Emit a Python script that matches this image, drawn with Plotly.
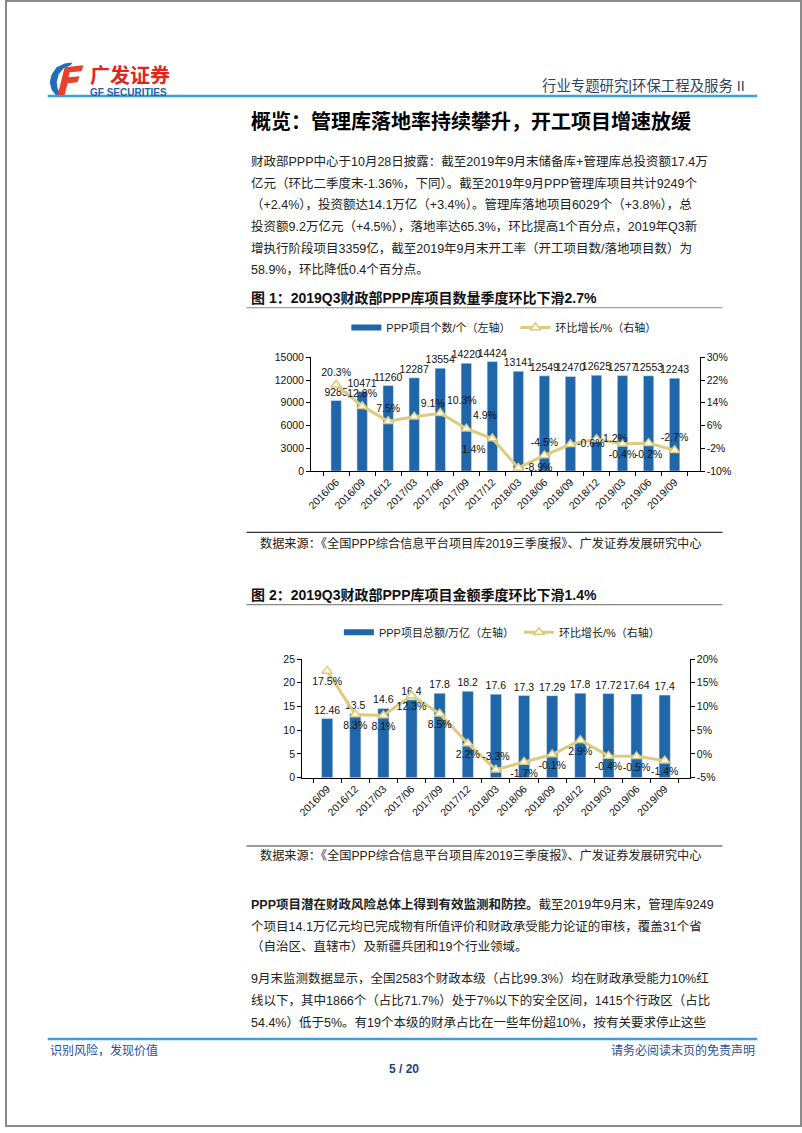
import plotly.graph_objects as go

W, H = 802, 1133

# ---------------- data ----------------
quarters1 = ["2016/06", "2016/09", "2016/12", "2017/03", "2017/06", "2017/09", "2017/12",
             "2018/03", "2018/06", "2018/09", "2018/12", "2019/03", "2019/06", "2019/09"]
project_counts = [9285, 10471, 11260, 12287, 13554, 14220, 14424,
                  13141, 12549, 12470, 12625, 12577, 12553, 12243]
count_growth = [20.3, 12.8, 7.5, 9.1, 10.3, 4.9, 1.4, -8.9, -4.5, -0.6, 1.2, -0.4, -0.2, -2.7]

quarters2 = ["2016/09", "2016/12", "2017/03", "2017/06", "2017/09", "2017/12",
             "2018/03", "2018/06", "2018/09", "2018/12", "2019/03", "2019/06", "2019/09"]
project_amounts = [12.46, 13.5, 14.6, 16.4, 17.8, 18.2, 17.6, 17.3, 17.29, 17.8, 17.72, 17.64, 17.4]
amount_growth = [17.5, 8.3, 8.1, 12.3, 8.5, 2.2, -3.3, -1.7, -0.1, 2.9, -0.4, -0.5, -1.4]

y1_left_ticks = [0, 3000, 6000, 9000, 12000, 15000]
y1_right_ticks = [-10, -2, 6, 14, 22, 30]
y2_left_ticks = [0, 5, 10, 15, 20, 25]
y2_right_ticks = [-5, 0, 5, 10, 15, 20]

# label placement (style)
pos1 = ["top center", "top center", "top center", "top right", "top right", "top right",
        "bottom left", "middle right", "top center", "middle right", "middle right",
        "bottom center", "bottom center", "top center"]
pos2 = ["bottom center"] * 6 + ["top center"] + ["bottom center"] * 6

BLUE = "#1F67AA"
GOLD = "#DCCB7E"
FONT = "Liberation Sans, Arial, Noto Sans CJK SC"
CJK = "Liberation Sans, Noto Sans CJK SC"


def px(x):
    return x / W


def py(y):
    return 1 - y / H


fig = go.Figure()


def legend_swatch(name, legend):
    # wide blue legend key like the original (no data drawn)
    fig.add_trace(go.Scatter(x=[None], y=[None], mode="lines", name=name,
                             line=dict(color=BLUE, width=6), legend=legend,
                             xaxis="x" if legend == "legend" else "x2",
                             yaxis="y" if legend == "legend" else "y3"))


# ---------------- chart 1 ----------------
legend_swatch("PPP项目个数/个（左轴）", "legend")
fig.add_trace(go.Bar(
    x=quarters1, y=project_counts, name="PPP项目个数/个（左轴）", showlegend=False,
    marker=dict(color=BLUE), width=0.4,
    text=[str(v) for v in project_counts], textposition="outside",
    textfont=dict(size=10.5, color="#111", family=FONT),
    constraintext="none", cliponaxis=False,
    xaxis="x", yaxis="y"))
fig.add_trace(go.Scatter(
    x=quarters1, y=count_growth, name="环比增长/%（右轴）",
    mode="lines+markers+text",
    line=dict(color=GOLD, width=3),
    marker=dict(symbol="triangle-up", size=9, color="#FFFBE6", line=dict(color=GOLD, width=1.5)),
    text=[f"{v}%" for v in count_growth], textposition=pos1,
    textfont=dict(size=10.5, color="#111", family=FONT),
    cliponaxis=False, xaxis="x", yaxis="y2", legend="legend"))

# ---------------- chart 2 ----------------
legend_swatch("PPP项目总额/万亿（左轴）", "legend2")
fig.add_trace(go.Bar(
    x=quarters2, y=project_amounts, name="PPP项目总额/万亿（左轴）", showlegend=False,
    marker=dict(color=BLUE), width=0.4,
    text=[str(v) for v in project_amounts], textposition="outside",
    textfont=dict(size=10.5, color="#111", family=FONT),
    constraintext="none", cliponaxis=False,
    xaxis="x2", yaxis="y3"))
fig.add_trace(go.Scatter(
    x=quarters2, y=amount_growth, name="环比增长/%（右轴）",
    mode="lines+markers+text",
    line=dict(color=GOLD, width=3),
    marker=dict(symbol="triangle-up", size=9, color="#FFFBE6", line=dict(color=GOLD, width=1.5)),
    text=[f"{v}%" for v in amount_growth], textposition=pos2,
    textfont=dict(size=10.5, color="#111", family=FONT),
    cliponaxis=False, xaxis="x2", yaxis="y4", legend="legend2"))

axis_common = dict(showline=True, linecolor="#000", linewidth=1, ticks="outside",
                   ticklen=4, tickcolor="#000", showgrid=False, zeroline=False,
                   tickfont=dict(size=10.5, color="#111", family=FONT))
xaxis_common = dict(axis_common, type="category", tickangle=-45, tickson="boundaries")

fig.update_layout(
    width=W, height=H, margin=dict(l=0, r=0, t=0, b=0),
    paper_bgcolor="white", plot_bgcolor="rgba(0,0,0,0)",
    font=dict(family=FONT, color="#111"),
    xaxis=dict(xaxis_common, domain=[px(308), px(699)], anchor="y"),
    yaxis=dict(axis_common, domain=[py(470), py(355)], range=[0, 15000],
               tickvals=y1_left_ticks, ticktext=[str(v) for v in y1_left_ticks], anchor="x"),
    yaxis2=dict(axis_common, overlaying="y", side="right", anchor="x", range=[-10, 30],
                tickvals=y1_right_ticks, ticktext=[f"{v}%" for v in y1_right_ticks]),
    xaxis2=dict(xaxis_common, domain=[px(299), px(689)], anchor="y3"),
    yaxis3=dict(axis_common, domain=[py(780), py(660)], range=[0, 25],
                tickvals=y2_left_ticks, ticktext=[str(v) for v in y2_left_ticks], anchor="x2"),
    yaxis4=dict(axis_common, overlaying="y3", side="right", anchor="x2", range=[-5, 20],
                tickvals=y2_right_ticks, ticktext=[f"{v}%" for v in y2_right_ticks]),
    legend=dict(orientation="h", x=px(502), y=py(325), xanchor="center", yanchor="middle",
                font=dict(size=11, family=CJK, color="#222"), bgcolor="rgba(0,0,0,0)",
                itemwidth=30, tracegroupgap=0),
    legend2=dict(orientation="h", x=px(500), y=py(633), xanchor="center", yanchor="middle",
                 font=dict(size=11, family=CJK, color="#222"), bgcolor="rgba(0,0,0,0)",
                 itemwidth=30, tracegroupgap=0),
)

# ---------------- page text ----------------
ann = []


def text(x, y, s, size=13, color="#222", anchor="left", family=CJK):
    ann.append(dict(x=px(x), y=py(y), xref="paper", yref="paper", text=s, showarrow=False,
                    xanchor=anchor, yanchor="middle",
                    font=dict(size=size, color=color, family=family)))


# header
text(84, 69, "<b>广发证券</b>", size=20, color="#E1251B", family="Noto Sans CJK SC")
text(84, 87, "<b>GF SECURITIES</b>", size=10, color="#1D5FA8",
     family="Liberation Sans Narrow, Liberation Sans")
text(747, 81, "行业专题研究|环保工程及服务 II", size=14.4, color="#2F3F5F", anchor="right")

# main title
text(246, 116, "<b>概览：管理库落地率持续攀升，开工项目增速放缓</b>", size=20, color="#000",
     family="Noto Sans CJK SC")

para1 = [
    "财政部PPP中心于10月28日披露：截至2019年9月末储备库+管理库总投资额17.4万",
    "亿元（环比二季度末-1.36%，下同）。截至2019年9月PPP管理库项目共计9249个",
    "（+2.4%），投资额达14.1万亿（+3.4%）。管理库落地项目6029个（+3.8%），总",
    "投资额9.2万亿元（+4.5%），落地率达65.3%，环比提高1个百分点，2019年Q3新",
    "增执行阶段项目3359亿，截至2019年9月末开工率（开工项目数/落地项目数）为",
    "58.9%，环比降低0.4个百分点。",
]
for i, s in enumerate(para1):
    text(246, [157, 179, 201, 223, 245, 267][i], s, size=12.5, color="#222")

text(246, 295, "<b>图 1：2019Q3财政部PPP库项目数量季度环比下滑2.7%</b>", size=14, color="#111",
     family="Liberation Sans, Noto Sans CJK SC")
text(255, 543, "数据来源：《全国PPP综合信息平台项目库2019三季度报》、广发证券发展研究中心",
     size=12.2, color="#222")
text(246, 595, "<b>图 2：2019Q3财政部PPP库项目金额季度环比下滑1.4%</b>", size=14, color="#111",
     family="Liberation Sans, Noto Sans CJK SC")
text(255, 859, "数据来源：《全国PPP综合信息平台项目库2019三季度报》、广发证券发展研究中心",
     size=12.2, color="#222")

para2 = [
    "<b>PPP项目潜在财政风险总体上得到有效监测和防控。</b>截至2019年9月末，管理库9249",
    "个项目14.1万亿元均已完成物有所值评价和财政承受能力论证的审核，覆盖31个省",
    "（自治区、直辖市）及新疆兵团和19个行业领域。",
    "9月末监测数据显示，全国2583个财政本级（占比99.3%）均在财政承受能力10%红",
    "线以下，其中1866个（占比71.7%）处于7%以下的安全区间，1415个行政区（占比",
    "54.4%）低于5%。有19个本级的财承占比在一些年份超10%，按有关要求停止这些",
]
for i, s in enumerate(para2):
    text(246, [908, 930, 951, 983, 1005, 1027][i], s, size=12.5, color="#222")

# footer
text(43, 1056, "识别风险，发现价值", size=12, color="#1F4E9A")
text(757, 1056, "请务必阅读末页的免责声明", size=12, color="#1F4E9A", anchor="right")
text(401, 1074, "<b>5 / 20</b>", size=12, color="#1F3F7A", anchor="center",
     family="Liberation Sans Narrow, Liberation Sans")

fig.update_layout(annotations=ann)

# ---------------- shapes ----------------
shapes = []


def hline(x0, x1, y, color, w):
    shapes.append(dict(type="line", xref="paper", yref="paper", x0=px(x0), x1=px(x1),
                       y0=py(y), y1=py(y), line=dict(color=color, width=w)))


def path(points, color):
    d = "M " + " L ".join(f"{px(a):.5f},{py(b):.5f}" for a, b in points) + " Z"
    shapes.append(dict(type="path", xref="paper", yref="paper", path=d,
                       fillcolor=color, line=dict(width=0)))


hline(43, 757, 91, "#3AA0D8", 2.5)       # header rule
hline(243, 722, 305, "#888888", 1.2)     # fig 1 title rule
hline(243, 722, 532, "#333333", 1.2)     # source 1 rule
hline(243, 722, 605, "#888888", 1.2)     # fig 2 title rule
hline(243, 722, 849, "#333333", 1.2)     # source 2 rule
hline(43, 757, 1044, "#3AA0D8", 2.5)     # footer rule

# logo icon (approximation)
path([(68, 57), (60, 58), (52, 62), (47, 69), (45, 77), (47, 85), (51, 90),
      (57, 90), (53, 84), (52, 77), (54, 69), (59, 63), (66, 60)], "#1E6FB8")
path([(60, 62), (79, 60), (77, 66), (65, 67), (64, 72), (75, 71), (73, 77),
      (63, 78), (60, 90), (53, 90)], "#E8402A")

# page frame
shapes.append(dict(type="rect", xref="paper", yref="paper", x0=px(1), x1=px(801),
                   y0=py(1132), y1=py(-5), line=dict(color="#8A8A8A", width=2),
                   fillcolor="rgba(0,0,0,0)"))

fig.update_layout(shapes=shapes)

fig.write_html("out.html", config={"displayModeBar": False},
               post_script="document.body.style.margin='0';document.body.style.overflow='hidden';")
